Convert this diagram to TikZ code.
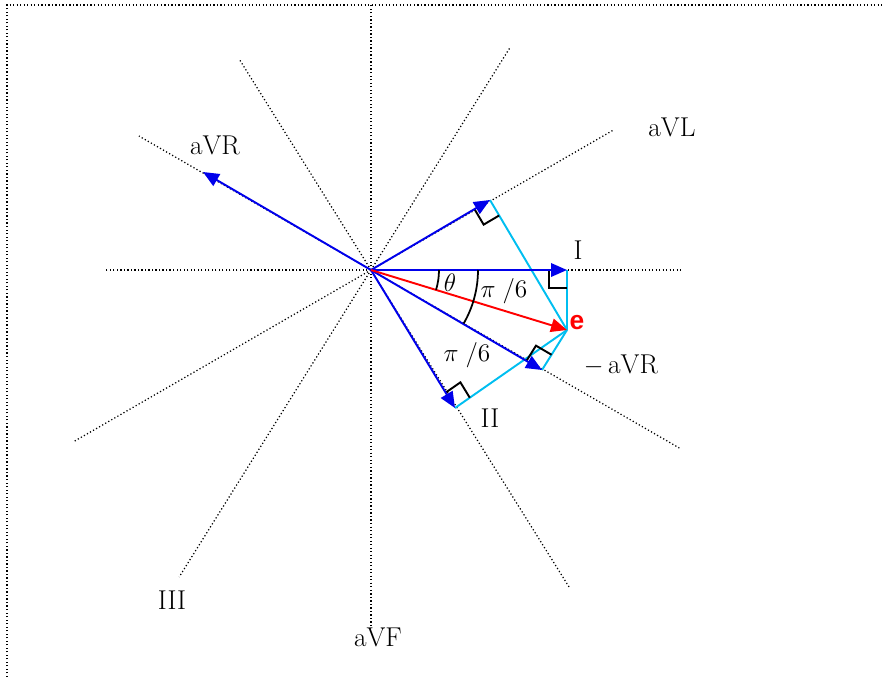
\documentclass[tikz,border=0pt]{standalone}
\usepackage{fontspec}
\newfontfamily\efont{Liberation Sans}
\usetikzlibrary{
  arrows.meta,
  calc,
  positioning
}
\definecolor{ecgblue}{RGB}{0,0,235}
\definecolor{ecgcyan}{RGB}{0,190,240}
\definecolor{ecgred}{RGB}{255,0,0}
\newcommand{\rmsize}{0.36cm}

\begin{document}
\begin{tikzpicture}[
      x=0.02cm, y=0.02cm,
      axis/.style={dash pattern=on 0.7pt off 1.3pt, line width=0.7pt, black},
      vec/.style={-{Triangle[length=0.32cm, width=0.27cm]}, line width=1.1pt, ecgblue},
      evec/.style={vec, ecgred},
      proj/.style={line width=1.1pt, ecgcyan},
      rmark/.style={line width=1.1pt, black},
      angarc/.style={line width=1pt, black},
      lead/.style={font=\fontsize{15.5}{18}\selectfont, inner sep=1pt},
      anglbl/.style={font=\fontsize{14}{16}\selectfont, inner sep=1pt}
    ]
      \useasboundingbox (-371,-407) rectangle (512,270);

      % Frame
      \draw[axis] (-364,-407) -- (-364,265) -- (512,265);

      % Points
      \coordinate (O) at (0,0);
      \coordinate (e) at (196,-60);
      \coordinate (fL) at (119,70);
      \coordinate (fI) at (196,0);
      \coordinate (fR) at (171,-100);
      \coordinate (fII) at (84,-138);
      \coordinate (tR) at (-168,98);

      % Lead axes
      \foreach \a/\r in {0/312, 180/266, 30/279, 210/343, 150/268, -30/356,
                         58/262, 238/362, 122/248, -58/374, 90/265, -90/355}
        \draw[axis] (O) -- (\a:\r);

      % Projections
      \foreach \f in {fL, fI, fR, fII}
        \draw[proj] (\f) -- (e);

      % Right angle marks
      \foreach \f in {fL, fI, fR, fII}
        \draw[rmark] ($(\f)!\rmsize!(O)$) -- ($(\f)!\rmsize!(O) + (\f)!\rmsize!(e) - (\f)$)
          -- ($(\f)!\rmsize!(e)$);

      % Lead vectors
      \draw[vec] (O) -- (tR);
      \draw[vec] (O) -- (fL);
      \draw[vec] (O) -- (fI);
      \draw[vec] (O) -- (fR);
      \draw[vec] (O) -- (fII);
      \draw[evec] (O) -- (e);

      % Angles
      \draw[angarc] (68,0) arc[start angle=0, end angle=-17, radius=68];
      \draw[angarc] (107,0) arc[start angle=0, end angle=-30, radius=107];
      \node[anglbl] (th) at (79,-13) {$\theta$};
      \node[anglbl] (pa) at (133,-21) {$\pi\;/6$};
      \node[anglbl] (pb) at (96,-85) {$\pi\;/6$};

      % Lead labels
      \node[lead] (lR) at (-156,125) {aVR};
      \node[lead] (lL) at (301,143) {aVL};
      \node[lead] (lI) at (207,20) {I};
      \node[lead] (lmR) at (250,-95) {$-$\,aVR};
      \node[lead] (lII) at (119,-148) {II};
      \node[lead] (lIII) at (-199,-330) {III};
      \node[lead] (lF) at (7,-367) {aVF};
      \node[font=\efont\bfseries\fontsize{15}{17}\selectfont, text=ecgred,
            inner sep=1pt] (le) at (206,-53) {e};
    \end{tikzpicture}
\end{document}
